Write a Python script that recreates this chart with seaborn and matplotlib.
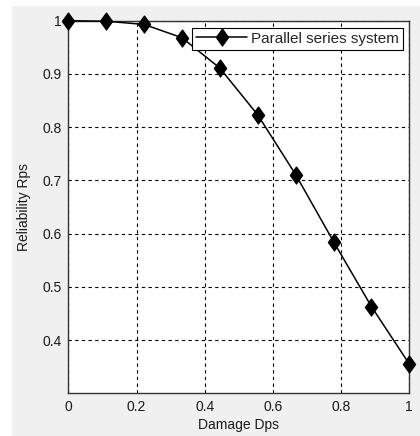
import matplotlib
matplotlib.use("Agg")
import matplotlib.pyplot as plt
import seaborn as sns
import numpy as np
import pandas as pd
from matplotlib.patches import Rectangle

# Damage levels and corresponding system reliability
damage = [0.0, 1/9, 2/9, 3/9, 4/9, 5/9, 6/9, 7/9, 8/9, 1.0]
reliability = [1.000, 0.999, 0.993, 0.968, 0.911, 0.823, 0.711, 0.585, 0.463, 0.355]
series_name = "Parallel series system"

x_ticks = [0, 0.2, 0.4, 0.6, 0.8, 1]
x_tick_labels = ["0", "0.2", "0.4", "0.6", "0.8", "1"]
y_ticks = [0.4, 0.5, 0.6, 0.7, 0.8, 0.9, 1.0]
y_tick_labels = ["0.4", "0.5", "0.6", "0.7", "0.8", "0.9", "1"]

sns.set_style("white")
plt.rcParams["font.family"] = ["Liberation Sans", "DejaVu Sans"]

W, H = 420, 436
fig = plt.figure(figsize=(W / 100, H / 100), dpi=100, facecolor="white")
# grey figure panel
fig.patches.append(Rectangle((12 / W, 0), 1 - 12 / W, 1 - 6 / H,
                             transform=fig.transFigure, facecolor="#f0f0f0",
                             edgecolor="none", zorder=-10))

left, right, top, bottom = 68.3, 409.3, 20.7, 393.3
ax = fig.add_axes([left / W, 1 - bottom / H, (right - left) / W, (bottom - top) / H])
ax.set_facecolor("white")

df = pd.DataFrame({"Damage Dps": damage, "Reliability Rps": reliability})
diamond = [(0, 1), (0.72, 0), (0, -1), (-0.72, 0), (0, 1)]
sns.lineplot(data=df, x="Damage Dps", y="Reliability Rps", ax=ax, color="black",
             linewidth=1.1, marker=diamond, markersize=12.5, markeredgecolor="black",
             markerfacecolor="black", label=series_name, zorder=5, clip_on=False)

ax.set_xlim(0, 1)
ax.set_ylim(0.3, 1.0)
ax.set_xticks(x_ticks)
ax.set_xticklabels(x_tick_labels)
ax.set_yticks(y_ticks)
ax.set_yticklabels(y_tick_labels)
ax.tick_params(axis="both", length=0, labelsize=10, labelcolor="#1a1a1a", pad=5)

ax.grid(True, color="black", linestyle=(0, (3, 3)), linewidth=0.8)
for s in ax.spines.values():
    s.set_visible(True)
    s.set_color("#333333")
    s.set_linewidth(1.0)

ax.set_xlabel("Damage Dps", fontsize=10, color="#1a1a1a", labelpad=3)
ax.set_ylabel("Reliability Rps", fontsize=10, color="#1a1a1a", labelpad=8)

leg = ax.legend(loc="upper right", bbox_to_anchor=((403 - left) / (right - left), 1 - (28 - top) / (bottom - top)),
                fontsize=11, frameon=True, fancybox=False, framealpha=1,
                edgecolor="black", borderpad=0.25, handlelength=3.3, handletextpad=0.3,
                borderaxespad=0)
leg.get_frame().set_linewidth(0.8)
leg.set_zorder(10)

fig.savefig("out.png", dpi=100, facecolor=fig.get_facecolor())
